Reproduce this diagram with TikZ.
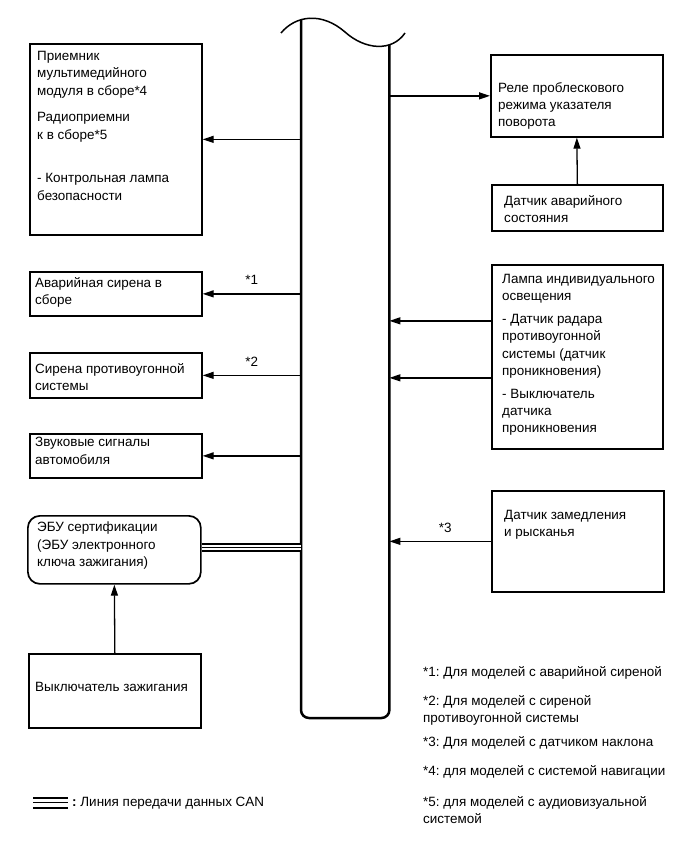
\documentclass[tikz,border=0pt]{standalone}
\usepackage{fontspec}
\setmainfont{Liberation Sans}
\usetikzlibrary{arrows.meta}

\newcommand\diagfont{\frenchspacing\fontsize{13.5}{17.5}\selectfont}

\begin{document}
\begin{tikzpicture}[x=1bp,y=-1bp,font=\diagfont,
  >={Triangle[length=11bp,width=7bp]},
  box/.style={draw,line width=1.7bp,inner sep=0,anchor=north west},
  txt/.style={anchor=north west,inner sep=0,align=left},
  sig/.style={->,line width=1.3bp},
  can/.style={line width=2bp,double distance=4.5bp},
  buswall/.style={line width=2.5bp}]
  \useasboundingbox (0,0) rectangle (690,854);
  % bus
  \node[inner sep=0,minimum width=88bp,minimum height=698bp,anchor=south west] (bus) at (301,718) {};
  \draw[buswall,rounded corners=8bp] (bus.north west) -- (bus.south west) -- (bus.south east) -- (bus.east |- 0,44.6);
  \draw[line width=1.5bp] (281,33) .. controls (296,15) and (322,12) .. (345,32) .. controls (365,50) and (392,52) .. (405,33);
  % left side
  \node[box,minimum width=172bp,minimum height=191bp] (mmr) at (29,43) {};
  \node[txt] (mmrt) at (37,51) {Приемник\\мультимедийного\\модуля в сборе*4\\[9bp]Радиоприемни\\к в сборе*5\\[26bp]- Контрольная лампа\\безопасности};
  \node[box,minimum width=172bp,minimum height=44bp] (siren) at (29,271) {};
  \node[txt] (sirent) at (35,277) {Аварийная сирена в\\сборе};
  \node[box,minimum width=172bp,minimum height=45bp] (theft) at (29,352) {};
  \node[txt] (theftt) at (35,363) {Сирена противоугонной\\системы};
  \node[box,minimum width=172bp,minimum height=44bp] (horn) at (29,433) {};
  \node[txt] (hornt) at (35,437) {Звуковые сигналы\\автомобиля};
  \node[box,rounded corners=12bp,minimum width=173bp,minimum height=68bp] (ecu) at (27,515) {};
  \node[txt] (ecut) at (37,522) {ЭБУ сертификации\\(ЭБУ электронного\\ключа зажигания)};
  \node[box,minimum width=172bp,minimum height=74bp] (ign) at (28,653) {};
  \node[txt] (ignt) at (35,682) {Выключатель зажигания};
  % right side
  \node[box,minimum width=172bp,minimum height=82bp] (relay) at (490,54) {};
  \node[txt] (relayt) at (498,82) {Реле проблескового\\режима указателя\\поворота};
  \node[box,minimum width=171bp,minimum height=46bp] (crash) at (491,184) {};
  \node[txt] (crasht) at (504,195) {Датчик аварийного\\состояния};
  \node[box,minimum width=171bp,minimum height=184bp] (lamp) at (491,264) {};
  \node[txt] (lampt) at (502,274) {Лампа индивидуального\\освещения\\[5bp]- Датчик радара\\противоугонной\\системы (датчик\\проникновения)\\[5bp]- Выключатель\\датчика\\проникновения};
  \node[box,minimum width=172bp,minimum height=101bp] (yaw) at (491,490) {};
  \node[txt] (yawt) at (504,510) {Датчик замедления\\и рысканья};
  % connectors
  \draw[sig] (bus.west |- mmr.east) -- (mmr.east);
  \draw[sig] (bus.west |- siren.east) -- node[above=5bp] (n1) {*1} (siren.east);
  \draw[sig] (bus.west |- theft.east) -- node[above=5bp] (n2) {*2} (theft.east);
  \draw[sig] (bus.west |- horn.east) -- (horn.east);
  \draw[sig] (bus.east |- relay.west) -- (relay.west);
  \draw[sig] (crash.north) -- (relay.south);
  \coordinate (lampa) at ([yshift=36bp]lamp.west);
  \coordinate (lampb) at ([yshift=-21bp]lamp.west);
  \draw[sig] (lampa) -- (bus.east |- lampa);
  \draw[sig] (lampb) -- (bus.east |- lampb);
  \draw[sig] (yaw.west) -- node[above=5bp,pos=0.45] (n3) {*3} (bus.east |- yaw.west);
  \draw[sig] (ign.north) -- (ecu.south);
  % CAN line
  \coordinate (canl) at ([yshift=2.5bp]ecu.east);
  \draw[can] (canl) -- (bus.west |- canl);
  \draw[line width=0.9bp] (canl) -- (bus.west |- canl);
  % notes
  \foreach \i/\y/\t in {1/666/{*1: Для моделей с аварийной сиреной},
    2/695/{*2: Для моделей с сиреной\\противоугонной системы},
    3/736/{*3: Для моделей с датчиком наклона},
    4/765/{*4: для моделей с системой навигации},
    5/796/{*5: для моделей с аудиовизуальной\\системой}}
    \node[txt] (fn\i) at (423,\y) {\t};
  % legend
  \coordinate (lg) at (33,802.5);
  \draw[can,double distance=8bp] (lg) -- ++(35,0);
  \draw[line width=1bp] (lg) -- ++(35,0);
  \node[anchor=west,inner sep=0] (lgt) at (72,803) {\textbf{:} Линия передачи данных CAN};
\end{tikzpicture}
\end{document}
